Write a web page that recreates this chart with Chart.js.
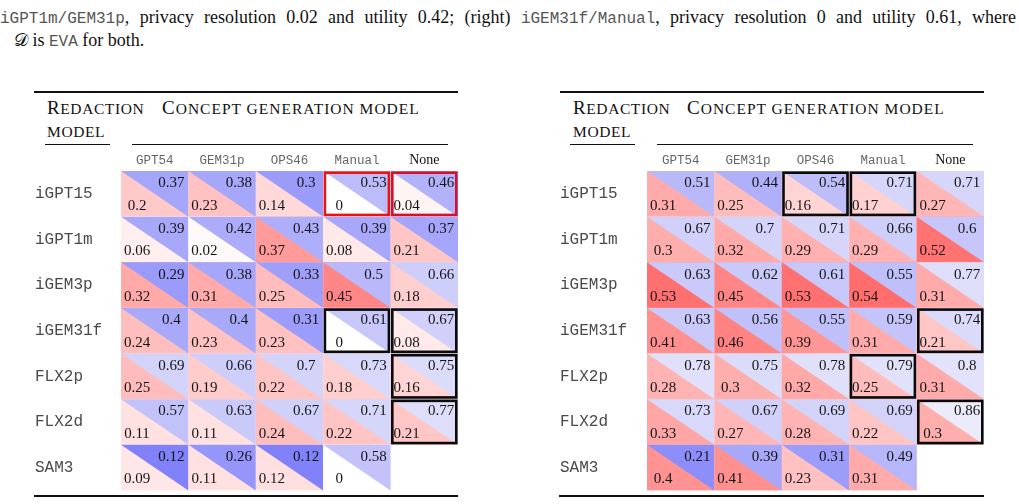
<!DOCTYPE html>
<html>
<head>
<meta charset="utf-8">
<script src="https://cdn.jsdelivr.net/npm/chart.js@4/dist/chart.umd.min.js"></script>
<style>
  html, body { margin:0; padding:0; background:#fff; }
  body { width:1019px; height:504px; position:relative; overflow:hidden; font-family:"Liberation Serif","Times New Roman",serif; color:#111; }
  .cap { position:absolute; left:0; width:1016px; font-size:18px; line-height:23px; white-space:nowrap; }
  .just { text-align:justify; text-align-last:justify; white-space:normal; }
  .mono { font-family:"Liberation Mono","DejaVu Sans Mono",monospace; font-size:16px; color:#555; }
  .hdr { position:absolute; font-size:15.5px; line-height:23px; white-space:nowrap; color:#111; text-transform:uppercase; letter-spacing:0.6px; }
  .hdr b { font-weight:normal; font-size:19px; }
  .hdr.wide { letter-spacing:1.0px; }
  .rule { position:absolute; background:#111; }
  .wrap { position:absolute; width:450px; height:420px; }
</style>
</head>
<body>
<div class="cap just" style="top:6px;"><span class="mono">iGPT1m/GEM31p</span>, privacy resolution 0.02 and utility 0.42; (right) <span class="mono">iGEM31f/Manual</span>, privacy resolution 0 and utility 0.61, where</div>
<div class="cap" style="top:29px;left:14px;">𝒟 is <span class="mono">EVA</span> for both.</div>

<!-- left table frame -->
<div class="rule" style="left:34px;top:91px;width:424px;height:1.5px;"></div>
<div class="hdr" style="left:47px;top:96px;"><b>R</b>edaction</div>
<div class="hdr" style="left:47px;top:120px;">model</div>
<div class="hdr wide" style="left:162px;top:96px;"><b>C</b>oncept generation model</div>
<div class="rule" style="left:45px;top:144px;width:65px;height:1.2px;"></div>
<div class="rule" style="left:132px;top:144px;width:316px;height:1.2px;"></div>
<div class="rule" style="left:34px;top:495px;width:424px;height:2px;"></div>

<!-- right table frame -->
<div class="rule" style="left:560px;top:91px;width:424px;height:1.5px;"></div>
<div class="hdr" style="left:573px;top:96px;"><b>R</b>edaction</div>
<div class="hdr" style="left:573px;top:120px;">model</div>
<div class="hdr wide" style="left:687px;top:96px;"><b>C</b>oncept generation model</div>
<div class="rule" style="left:570px;top:144px;width:65px;height:1.2px;"></div>
<div class="rule" style="left:657px;top:144px;width:316px;height:1.2px;"></div>
<div class="rule" style="left:559px;top:495px;width:425px;height:2px;"></div>

<div class="wrap" style="left:20px;top:80px;"><canvas id="left" width="450" height="420"></canvas></div>
<div class="wrap" style="left:545px;top:80px;"><canvas id="right" width="450" height="420"></canvas></div>

<script>
// ---- data ----
const rowLabels = ["iGPT15", "iGPT1m", "iGEM3p", "iGEM31f", "FLX2p", "FLX2d", "SAM3"];
const colLabels = ["GPT54", "GEM31p", "OPS46", "Manual", "None"];

const leftUtility = [
  [0.37, 0.38, 0.3, 0.53, 0.46],
  [0.39, 0.42, 0.43, 0.39, 0.37],
  [0.29, 0.38, 0.33, 0.5, 0.66],
  [0.4, 0.4, 0.31, 0.61, 0.67],
  [0.69, 0.66, 0.7, 0.73, 0.75],
  [0.57, 0.63, 0.67, 0.71, 0.77],
  [0.12, 0.26, 0.12, 0.58, null]
];
const leftPrivacy = [
  [0.2, 0.23, 0.14, 0, 0.04],
  [0.06, 0.02, 0.37, 0.08, 0.21],
  [0.32, 0.31, 0.25, 0.45, 0.18],
  [0.24, 0.23, 0.23, 0, 0.08],
  [0.25, 0.19, 0.22, 0.18, 0.16],
  [0.11, 0.11, 0.24, 0.22, 0.21],
  [0.09, 0.11, 0.12, 0, null]
];
const rightUtility = [
  [0.51, 0.44, 0.54, 0.71, 0.71],
  [0.67, 0.7, 0.71, 0.66, 0.6],
  [0.63, 0.62, 0.61, 0.55, 0.77],
  [0.63, 0.56, 0.55, 0.59, 0.74],
  [0.78, 0.75, 0.78, 0.79, 0.8],
  [0.73, 0.67, 0.69, 0.69, 0.86],
  [0.21, 0.39, 0.31, 0.49, null]
];
const rightPrivacy = [
  [0.31, 0.25, 0.16, 0.17, 0.27],
  [0.3, 0.32, 0.29, 0.29, 0.52],
  [0.53, 0.45, 0.53, 0.54, 0.31],
  [0.41, 0.46, 0.39, 0.31, 0.21],
  [0.28, 0.3, 0.32, 0.25, 0.31],
  [0.33, 0.27, 0.28, 0.22, 0.3],
  [0.4, 0.41, 0.23, 0.31, null]
];
// highlighted cells: [row, col]
const leftRedCells = [[0, 3], [0, 4]];
const leftBlackCells = [[3, 3], [3, 4], [4, 4], [5, 4]];
const rightRedCells = [];
const rightBlackCells = [[0, 2], [0, 3], [3, 4], [4, 3], [5, 4]];

// ---- colours ----
function blueFor(u) {
  const c = Math.round(255 - 0.56 * (1 - u) * 255);
  return `rgb(${c},${c},250)`;
}
function redFor(p) {
  const c = Math.max(0, Math.round(255 - 270 * p));
  return `rgb(255,${c},${c})`;
}

const cellPlugin = {
  id: 'cells',
  beforeDatasetsDraw(chart) {
    const ctx = chart.ctx;
    const xs = chart.scales.x, ys = chart.scales.y;
    const w = Math.abs(xs.getPixelForValue(1) - xs.getPixelForValue(0));
    const h = Math.abs(ys.getPixelForValue(1) - ys.getPixelForValue(0));
    const ds = chart.data.datasets[0];
    ctx.save();
    ds.data.forEach(pt => {
      const cx = xs.getPixelForValue(pt.ci);
      const cy = ys.getPixelForValue(pt.ri);
      const L = cx - w / 2, R = cx + w / 2, T = cy - h / 2, B = cy + h / 2;
      ctx.fillStyle = redFor(pt.p);
      ctx.fillRect(L, T, w, h);
      ctx.fillStyle = blueFor(pt.u);
      ctx.beginPath();
      ctx.moveTo(L, T); ctx.lineTo(R, T); ctx.lineTo(R, B); ctx.closePath();
      ctx.fill();
    });
    ctx.fillStyle = '#151515';
    ctx.font = '15px "Liberation Serif", "Times New Roman", serif';
    ctx.textAlign = 'center';
    ctx.textBaseline = 'middle';
    ds.data.forEach(pt => {
      const cx = xs.getPixelForValue(pt.ci);
      const cy = ys.getPixelForValue(pt.ri);
      const L = cx - w / 2, R = cx + w / 2, T = cy - h / 2;
      ctx.fillText(String(pt.u), R - 17, T + h * 0.27);
      ctx.fillText(String(pt.p), L + 16, T + h * 0.76);
    });
    const hl = chart.options.plugins.cells;
    const drawBorders = (cells, color) => {
      ctx.strokeStyle = color;
      ctx.lineWidth = 2.6;
      cells.forEach(([r, c]) => {
        const cx = xs.getPixelForValue(c);
        const cy = ys.getPixelForValue(r);
        ctx.strokeRect(cx - w / 2 + 1.7, cy - h / 2 + 1.7, w - 3.4, h - 3.4);
      });
    };
    drawBorders(hl.black, '#0a0a0a');
    hl.red.forEach(([r, c]) => drawBorders([[r, c]], c === 4 ? '#d3102e' : '#f01212'));
    ctx.restore();
  }
};

function buildPoints(util, priv) {
  const pts = [];
  rowLabels.forEach((rl, ri) => {
    colLabels.forEach((cl, ci) => {
      if (util[ri][ci] === null) return;
      pts.push({ x: cl, y: rl, ri, ci, u: util[ri][ci], p: priv[ri][ci] });
    });
  });
  return pts;
}

function makeChart(id, util, priv, red, black, yWidth, padRight) {
  return new Chart(document.getElementById(id), {
    type: 'scatter',
    data: { datasets: [{ data: buildPoints(util, priv), pointRadius: 0, pointHoverRadius: 0 }] },
    options: {
      responsive: false,
      animation: false,
      events: [],
      layout: { padding: { left: 15, right: padRight, top: 0, bottom: 7 } },
      plugins: {
        legend: { display: false },
        tooltip: { enabled: false },
        cells: { red: red, black: black }
      },
      scales: {
        x: {
          type: 'category', labels: colLabels, offset: true, position: 'top',
          grid: { display: false, drawTicks: false }, border: { display: false },
          ticks: {
            padding: 2.5,
            color: c => c.index === 4 ? '#111' : '#666',
            font: c => c.index === 4
              ? { family: '"Liberation Serif", serif', size: 14 }
              : { family: '"Liberation Mono", monospace', size: 12.5 }
          },
          afterFit: s => { s.height = 91; }
        },
        y: {
          type: 'category', labels: rowLabels, offset: true,
          grid: { display: false, drawTicks: false }, border: { display: false },
          ticks: {
            crossAlign: 'far', padding: 0, color: '#4a4a4a',
            font: { family: '"Liberation Mono", monospace', size: 16 }
          },
          afterFit: s => { s.width = yWidth; }
        }
      }
    },
    plugins: [cellPlugin]
  });
}

makeChart('left', leftUtility, leftPrivacy, leftRedCells, leftBlackCells, 86, 12);
makeChart('right', rightUtility, rightPrivacy, rightRedCells, rightBlackCells, 87, 11);
</script>
</body>
</html>
